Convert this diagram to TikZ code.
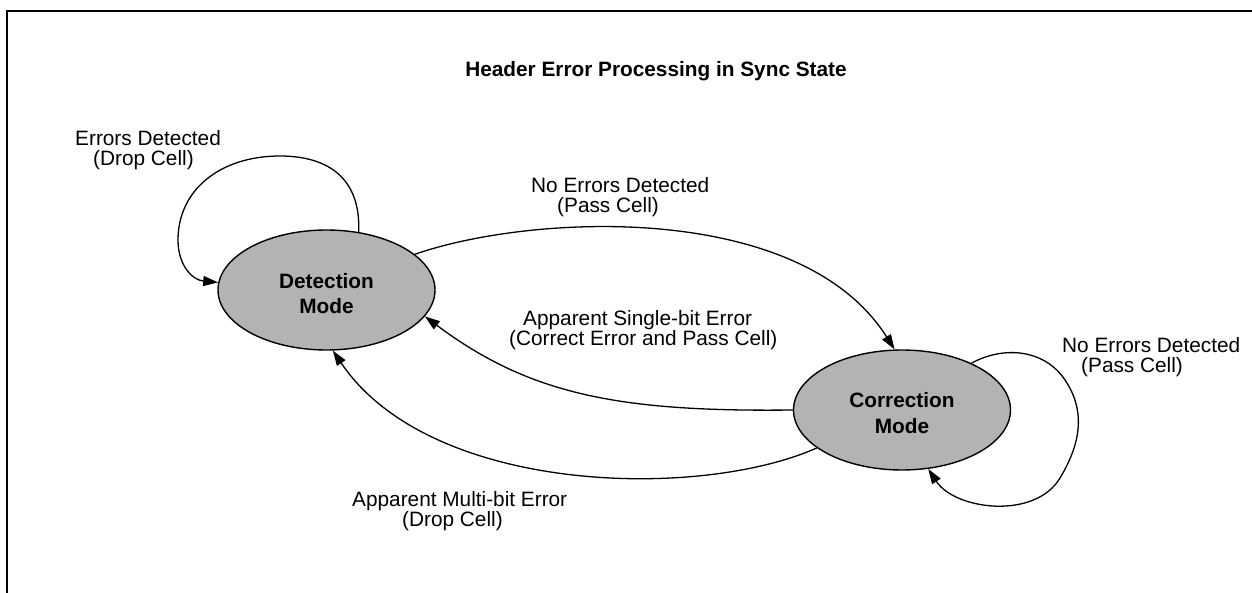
\documentclass[tikz,border=0pt]{standalone}
\usepackage{fontspec}
\setmainfont{Liberation Sans}
\usetikzlibrary{shapes.geometric,arrows.meta}
\definecolor{stategray}{RGB}{179,179,179}
\begin{document}
\begin{tikzpicture}[x=1pt,y=-1pt,
  state/.style={ellipse,draw=black,line width=1.4pt,fill=stategray,minimum width=217pt,minimum height=120pt,inner sep=0pt,align=center,font=\fontsize{20.8}{25.5}\selectfont\bfseries},
  lbl/.style={anchor=north west,inner sep=0pt,align=left,font=\fontsize{20.8}{20.5}\selectfont},
  conn/.style={line width=1.3pt,-{Triangle[length=15pt,width=10pt]}}]
\useasboundingbox (0,0) rectangle (1252,593);
\draw[line width=2.3pt,line join=miter] (7,593) -- (7,11) -- (1252,11);
\node[state] (det) at (326.5,290) {\rule{0pt}{22pt}Detection\\Mode};
\node[state] (cor) at (902,410) {\rule{0pt}{21pt}Correction\\Mode};
\node[anchor=base,font=\fontsize{20.8}{25}\selectfont\bfseries,inner sep=0pt] (title) at (656,77) {Header Error Processing in Sync State};
\node[lbl] (l1) at (75,130) {Errors Detected\\\hspace*{18pt}(Drop Cell)};
\node[lbl] (l2) at (531,177) {No Errors Detected\\\hspace*{26pt}(Pass Cell)};
\node[lbl] (l3) at (509,310) {\hspace*{14pt}Apparent Single-bit Error\\(Correct Error and Pass Cell)};
\node[lbl] (l4) at (1062,337) {No Errors Detected\\\hspace*{19pt}(Pass Cell)};
\node[lbl] (l5) at (352,491) {Apparent Multi-bit Error\\\hspace*{50pt}(Drop Cell)};
\draw[conn] (det.61) .. controls (361,180) and (330,156) .. (280,156) .. controls (220,156) and (178,190) .. (178,240) .. controls (178,265) and (192,280) .. (det.176);
\draw[conn] (det.22) .. controls (530,214) and (800,200) .. (cor.97);
\draw[conn] (cor.180) .. controls (620,412) and (530,395) .. (det.-15);
\draw[conn] (cor.204) .. controls (700,500) and (430,495) .. (det.-84);
\draw[conn] (cor.34) .. controls (1005,345) and (1045,350) .. (1065,380) .. controls (1088,414) and (1078,448) .. (1060,478) .. controls (1035,520) and (955,510) .. (cor.-66);
\end{tikzpicture}
\end{document}
